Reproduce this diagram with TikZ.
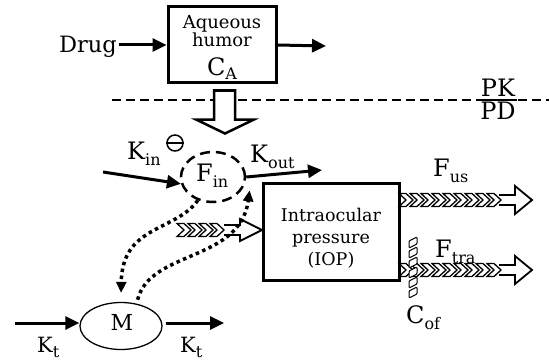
\documentclass[tikz,border=0pt]{standalone}
\usepackage{fontspec}
\setmainfont{DejaVu Serif}
\usetikzlibrary{arrows.meta,shapes.geometric,calc}
\newcommand\sbs[2][6pt]{\raisebox{-#1}{\fontsize{16}{16}\selectfont #2}}
\newcommand\chevarrow[5]{%
  \pgfmathtruncatemacro\nch{(#2-#4-16-11-#1)/11}%
  \fill[white] (#2-#4-16,#3-5) -- (#2-#4,#3-5) -- (#2-#4,#3-#5) -- (#2,#3) -- (#2-#4,#3+#5) -- (#2-#4,#3+5) -- (#2-#4-16,#3+5) -- cycle;
  \foreach \i in {0,...,\nch}{%
    \pgfmathsetmacro\cx{#1+\i*11}%
    \draw[chev] (\cx,#3-6.5) -- ++(7,0) -- ++(7,6.5) -- ++(-7,6.5) -- ++(-7,0) -- ++(7,-6.5) -- cycle;
  }
  \draw[line width=1.8pt, line join=miter] (#2-#4-16,#3-5) -- (#2-#4,#3-5) -- (#2-#4,#3-#5) -- (#2,#3) -- (#2-#4,#3+#5) -- (#2-#4,#3+5) -- (#2-#4-16,#3+5);
}
\begin{document}
\begin{tikzpicture}[x=1pt,y=-1pt,
  lbl/.style={font=\fontsize{24}{26}\selectfont, inner sep=0pt},
  boxtxt/.style={font=\fontsize{17.5}{22}\selectfont, inner sep=0pt, align=center},
  thk/.style={line width=3pt, -{Triangle[length=14pt,width=13pt]}},
  dots/.style={line width=3.5pt, dash pattern=on 3.5pt off 3.5pt, -{Triangle[length=11pt,width=10pt]}},
  bigbox/.style={draw, line width=3pt, inner sep=0pt},
  chev/.style={draw, line width=1.3pt, fill=white, line join=miter},
]
\useasboundingbox (0,0) rectangle (549,361);
% top box
\node[bigbox, minimum width=108pt, minimum height=76pt] (aq) at (222,45) {};
\node[font=\fontsize{18}{17}\selectfont, inner sep=0pt, align=center] (aqt) at (222,31) {Aqueous\\humor};
\node[lbl, font=\fontsize{24}{24}\selectfont, anchor=base] (ca) at (222,75) {C\sbs[5pt]{A}};
\node[lbl, font=\fontsize{22.5}{24}\selectfont, anchor=base] (drug) at (88,53) {Drug};
\coordinate (aqout) at (326,46);
\draw[thk] (drug.east |- aq.west) ++(2,0) coordinate (drs) -- (aq.west);
\draw[thk] (aq.east) -- (aqout);
% PK/PD line
\coordinate (dl1) at (112,100);
\coordinate (dl2) at (549,100);
\draw[line width=2pt, dash pattern=on 9pt off 5pt] (dl1) -- (dl2);
\node[lbl, anchor=base] (pk) at (498,96) {PK};
\node[lbl, anchor=base] (pd) at (498,119) {PD};
\draw[line width=2pt] (479,100) -- (517,100);
% hollow down arrow
\draw[line width=2.5pt, fill=white, line join=miter] ($(aq.south)+(-8,6)$) -- ++(21,0) -- ++(0,29) -- ++(19,0) -- ++(-29,14) -- ++(-29,-14) -- ++(18,0) -- cycle;
% F_in
\node[ellipse, draw, line width=2.5pt, dash pattern=on 10pt off 6pt, minimum width=64pt, minimum height=50pt, inner sep=0pt] (fin) at (213,177) {};
\node[lbl, anchor=base west] (fint) at (196,181) {F\sbs{in}};
\node[lbl, anchor=base west] (kin) at (127,159) {K\sbs{in}};
\node[circle, draw, line width=1.5pt, minimum size=16pt, inner sep=0pt] (minus) at (175,143) {};
\draw[line width=1.5pt] (minus.west) -- (minus.east);
\node[lbl, anchor=base west] (kout) at (250,162) {K\sbs{out}};
\coordinate (kins) at (103,172);
\coordinate (kouts) at (322,170);
\draw[thk] (kins) -- (fin.192);
\draw[thk] (fin.east) -- (kouts);
% IOP
\node[bigbox, minimum width=136pt, minimum height=97pt] (iop) at (331,231.5) {};
\node[boxtxt] (iopt) at (331,238) {Intraocular\\pressure\\(IOP)};
\chevarrow{399}{532}{200}{17}{14}
\chevarrow{399}{532}{270}{17}{14}
\chevarrow{177}{262}{230}{22}{11}
\node[lbl, anchor=base west] (fus) at (433,176) {F\sbs{us}};
\node[lbl, anchor=base west] (ftra) at (435,257) {F\sbs{tra}};
% barrier
\foreach \j in {0,...,5}{
  \draw[line width=1pt, fill=white, rounded corners=1pt] (409,241+10*\j) -- (417,237+10*\j) -- (417,244+10*\j) -- (409,248+10*\j) -- cycle;
}
\node[lbl, anchor=base west] (cof) at (406,323) {C\sbs{of}};
% M
\node[ellipse, draw, line width=1.3pt, minimum width=82pt, minimum height=47pt, inner sep=0pt] (m) at (121,326) {};
\node[lbl, font=\fontsize{22}{24}\selectfont, anchor=base] (mt) at (122,330) {M};
\coordinate (kt1) at (15,323);
\coordinate (kt2) at (224,323);
\draw[thk] (kt1) -- (m.west |- kt1);
\draw[thk] (m.east |- kt2) ++(3,0) -- (kt2);
\node[lbl, font=\fontsize{21}{22}\selectfont, anchor=base west] (ktl) at (37,352) {K\sbs[5pt]{t}};
\node[lbl, font=\fontsize{21}{22}\selectfont, anchor=base west] (ktr) at (180,352) {K\sbs[5pt]{t}};
% dotted feedback
\draw[dots, shorten >=9pt] (fin.237) .. controls (175,232) and (122,225) .. (m.north);
\draw[dots, shorten <=4pt] (m.55) .. controls (150,250) and (240,262) .. ([xshift=8pt]fin.-25);
\end{tikzpicture}
\end{document}
